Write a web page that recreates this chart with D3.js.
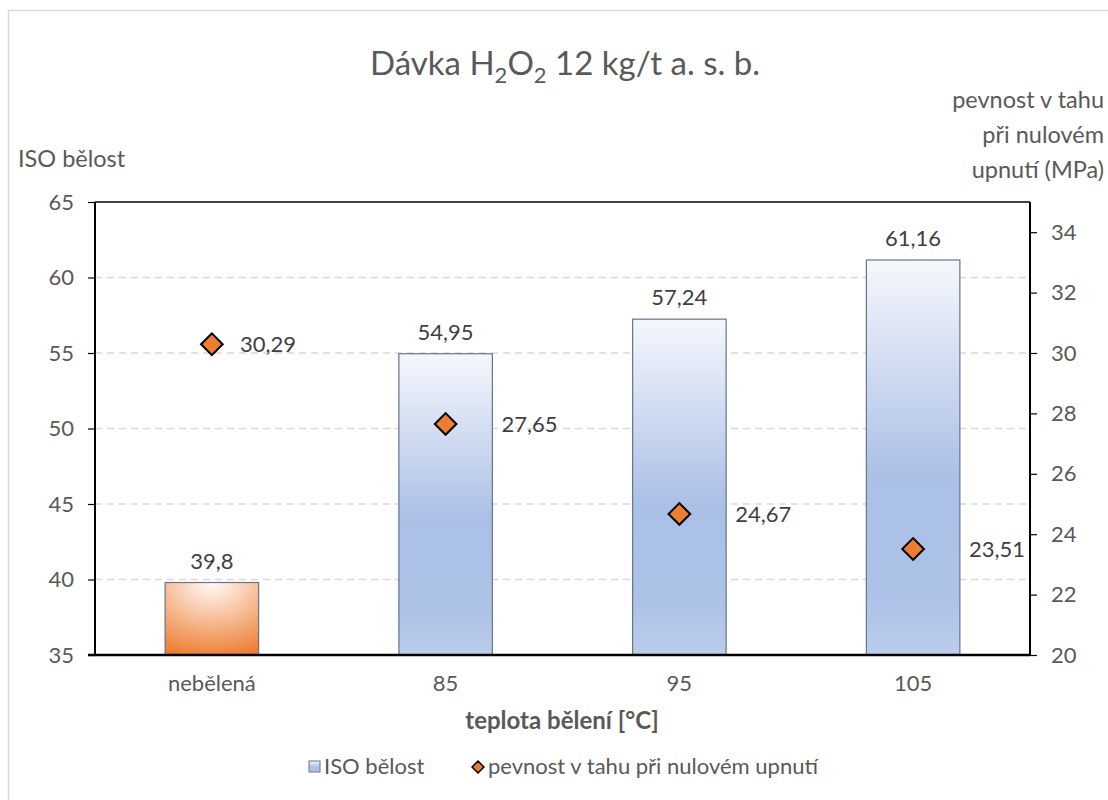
<!DOCTYPE html>
<html>
<head>
<meta charset="utf-8">
<script src="https://cdn.jsdelivr.net/npm/d3@7/dist/d3.min.js"></script>
<style>
  html, body { margin: 0; padding: 0; background: #fff; }
  svg { display: block; font-family: Lato, "Open Sans", sans-serif; }
</style>
</head>
<body>
<svg id="chart" width="1108" height="800"></svg>
<script>
// Categories (bleaching temperature) and the two series
const categories = ["nebělená", "85", "95", "105"];
const brightness = [39.8, 54.95, 57.24, 61.16];        // ISO bělost (left axis)
const strength = [30.29, 27.65, 24.67, 23.51];         // pevnost v tahu při nulovém upnutí (right axis)
const leftTicks = [35, 40, 45, 50, 55, 60, 65];
const rightTicks = [20, 22, 24, 26, 28, 30, 32, 34];

const fmt = v => String(v).replace(".", ",");
const textColor = "#595959";
const labelSize = 22;

const svg = d3.select("#chart");
const W = 1108, H = 800;
const plot = { left: 95, right: 1030, top: 202, bottom: 655 };

// Gradients
const defs = svg.append("defs");
const blue = defs.append("linearGradient").attr("id", "blueGrad")
  .attr("x1", 0).attr("y1", 0).attr("x2", 0).attr("y2", 1);
blue.append("stop").attr("offset", "0%").attr("stop-color", "#f5f7fc");
blue.append("stop").attr("offset", "55%").attr("stop-color", "#abc0e6");
blue.append("stop").attr("offset", "85%").attr("stop-color", "#adc2e7");
blue.append("stop").attr("offset", "100%").attr("stop-color", "#bccdeb");
const orange = defs.append("radialGradient").attr("id", "orangeGrad")
  .attr("cx", 0.5).attr("cy", 0).attr("r", 1.05).attr("fx", 0.5).attr("fy", 0);
orange.append("stop").attr("offset", "0%").attr("stop-color", "#fffbf8");
orange.append("stop").attr("offset", "100%").attr("stop-color", "#ed7d31");

// Outer chart border
svg.append("rect").attr("x", 8.5).attr("y", 10.5).attr("width", W + 20).attr("height", H + 20)
  .attr("fill", "none").attr("stroke", "#d9d9d9").attr("stroke-width", 1.5);

// Scales
const x = d3.scaleBand().domain(categories).range([plot.left, plot.right])
  .paddingInner(0.6).paddingOuter(0.3);
const yL = d3.scaleLinear().domain([35, 65]).range([plot.bottom, plot.top]);
const yR = d3.scaleLinear().domain([20, 35]).range([plot.bottom, plot.top]);

// Dashed gridlines
svg.append("g").selectAll("line")
  .data(leftTicks.filter(t => t > 35 && t < 65))
  .join("line")
  .attr("x1", plot.left).attr("x2", plot.right)
  .attr("y1", d => yL(d)).attr("y2", d => yL(d))
  .attr("stroke", "#d9d9d9").attr("stroke-width", 1.5).attr("stroke-dasharray", "7,5");

// Bars
svg.append("g").selectAll("rect")
  .data(categories)
  .join("rect")
  .attr("x", d => x(d))
  .attr("width", x.bandwidth())
  .attr("y", (d, i) => yL(brightness[i]))
  .attr("height", (d, i) => yL(35) - yL(brightness[i]))
  .attr("fill", (d, i) => i === 0 ? "url(#orangeGrad)" : "url(#blueGrad)")
  .attr("stroke", "#66748c").attr("stroke-width", 1.2);

// Bar value labels
svg.append("g").selectAll("text")
  .data(categories)
  .join("text")
  .attr("x", d => x(d) + x.bandwidth() / 2)
  .attr("y", (d, i) => yL(brightness[i]) - 14)
  .attr("text-anchor", "middle")
  .attr("font-size", labelSize).attr("fill", "#404040")
  .text((d, i) => fmt(brightness[i]));

// Axis frame
const axes = svg.append("g").attr("fill", "none").attr("stroke", "#000");
axes.append("line").attr("x1", plot.left).attr("x2", plot.right)
  .attr("y1", plot.top).attr("y2", plot.top).attr("stroke-width", 1.5);
axes.append("line").attr("x1", plot.left).attr("x2", plot.left)
  .attr("y1", plot.top).attr("y2", plot.bottom).attr("stroke-width", 2);
axes.append("line").attr("x1", plot.right).attr("x2", plot.right)
  .attr("y1", plot.top).attr("y2", plot.bottom).attr("stroke-width", 2);

// Left axis
const gL = svg.append("g").attr("transform", `translate(${plot.left},0)`)
  .call(d3.axisLeft(yL).tickValues(leftTicks).tickSize(7).tickPadding(14).tickFormat(d => d));
gL.select(".domain").remove();
gL.selectAll(".tick line").attr("stroke", "#000").attr("stroke-width", 1.2);
gL.selectAll(".tick text").attr("font-size", labelSize).attr("fill", textColor)
  .attr("font-family", "Lato, 'Open Sans', sans-serif");

// Right axis
const gR = svg.append("g").attr("transform", `translate(${plot.right},0)`)
  .call(d3.axisRight(yR).tickValues(rightTicks).tickSize(7).tickPadding(14).tickFormat(d => d));
gR.select(".domain").remove();
gR.selectAll(".tick line").attr("stroke", "#000").attr("stroke-width", 1.2);
gR.selectAll(".tick text").attr("font-size", labelSize).attr("fill", textColor)
  .attr("font-family", "Lato, 'Open Sans', sans-serif");

// Bottom axis
const gB = svg.append("g").attr("transform", `translate(0,${plot.bottom})`)
  .call(d3.axisBottom(x).tickSize(0).tickPadding(20));
gB.select(".domain").attr("stroke", "#000").attr("stroke-width", 2.5)
  .attr("d", `M${plot.left - 7},0H${plot.right}`);
gB.selectAll(".tick text").attr("font-size", labelSize).attr("fill", textColor)
  .attr("font-family", "Lato, 'Open Sans', sans-serif");

// Strength markers
const diamond = d3.symbol().type(d3.symbolDiamond2).size(300);
svg.append("g").selectAll("path")
  .data(categories)
  .join("path")
  .attr("transform", (d, i) => `translate(${x(d) + x.bandwidth() / 2},${yR(strength[i])})`)
  .attr("d", diamond)
  .attr("fill", "#ed7d31").attr("stroke", "#000").attr("stroke-width", 2);

// Strength labels: right of the marker, or right of the bar when the marker sits inside it
svg.append("g").selectAll("text")
  .data(categories)
  .join("text")
  .attr("x", (d, i) => yR(strength[i]) > yL(brightness[i])
    ? x(d) + x.bandwidth() + 9
    : x(d) + x.bandwidth() / 2 + 28)
  .attr("y", (d, i) => yR(strength[i]) + 2)
  .attr("dominant-baseline", "middle")
  .attr("font-size", labelSize).attr("fill", "#404040")
  .text((d, i) => fmt(strength[i]));

// Title
const title = svg.append("text").attr("x", 565).attr("y", 75)
  .attr("text-anchor", "middle").attr("font-size", 33).attr("fill", textColor);
title.append("tspan").text("Dávka H");
title.append("tspan").attr("font-size", 22).attr("dy", 8).text("2");
title.append("tspan").attr("dy", -8).text("O");
title.append("tspan").attr("font-size", 22).attr("dy", 8).text("2");
title.append("tspan").attr("dy", -8).text(" 12 kg/t a. s. b.");

// Axis titles
svg.append("text").attr("x", 18).attr("y", 167)
  .attr("font-size", 23.5).attr("fill", textColor).text("ISO bělost");
const rt = svg.append("text").attr("text-anchor", "end").attr("font-size", 23.5).attr("fill", textColor);
["pevnost v tahu", "při nulovém", "upnutí (MPa)"].forEach((s, i) => {
  rt.append("tspan").attr("x", 1104).attr("y", 108 + i * 35).text(s);
});
svg.append("text").attr("x", 562).attr("y", 729)
  .attr("text-anchor", "middle").attr("font-size", 24).attr("font-weight", "bold")
  .attr("fill", textColor).text("teplota bělení [°C]");

// Legend
const lg = svg.append("g");
lg.append("rect").attr("x", 309).attr("y", 761).attr("width", 11).attr("height", 11)
  .attr("fill", "url(#blueGrad)").attr("stroke", "#66748c").attr("stroke-width", 1);
lg.append("text").attr("x", 324).attr("y", 768).attr("dominant-baseline", "middle")
  .attr("font-size", 22).attr("fill", textColor).text("ISO bělost");
lg.append("path").attr("transform", "translate(478,767)")
  .attr("d", d3.symbol().type(d3.symbolDiamond2).size(90))
  .attr("fill", "#ed7d31").attr("stroke", "#000").attr("stroke-width", 1.5);
lg.append("text").attr("x", 488).attr("y", 768).attr("dominant-baseline", "middle")
  .attr("font-size", 22).attr("fill", textColor).text("pevnost v tahu při nulovém upnutí");
</script>
</body>
</html>
